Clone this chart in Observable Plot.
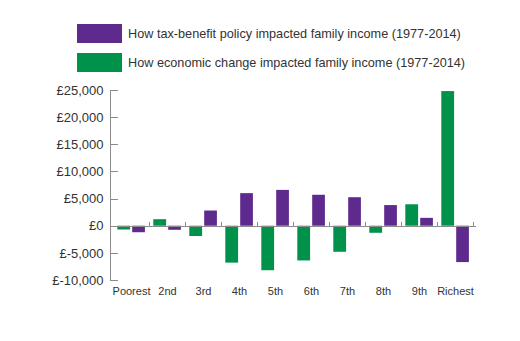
<!DOCTYPE html>
<html>
<head>
<meta charset="utf-8">
<script src="https://cdn.jsdelivr.net/npm/d3@7"></script>
<script src="https://cdn.jsdelivr.net/npm/@observablehq/plot@0.6"></script>
<style>
  html, body { margin: 0; padding: 0; background: #fff; }
  #wrap { position: relative; width: 520px; height: 341px; font-family: "Liberation Sans", Arial, sans-serif; }
  .leg { position: absolute; left: 77px; display: flex; align-items: center; font-size: 12.7px; color: #333; white-space: nowrap; }
  .sw { width: 45px; height: 19px; margin-right: 6px; }
  #chart { position: absolute; left: 0; top: 0; }
</style>
</head>
<body>
<div id="wrap">
  <div id="chart"></div>
  <div id="legend"></div>
</div>
<script>
const quantiles = ["Poorest", "2nd", "3rd", "4th", "5th", "6th", "7th", "8th", "9th", "Richest"];
const economicChange = [-700, 1200, -1900, -6800, -8200, -6400, -4800, -1300, 3950, 24800];
const taxBenefit = [-1200, -750, 2800, 6000, 6600, 5700, 5250, 3800, 1450, -6700];
const yTicks = [-10000, -5000, 0, 5000, 10000, 15000, 20000, 25000];
const seriesNames = [
  "How tax-benefit policy impacted family income (1977-2014)",
  "How economic change impacted family income (1977-2014)"
];
const colors = ["#5f2a8d", "#00924a"];

const econData = quantiles.map((q, i) => ({quantile: q, value: economicChange[i]}));
const taxData = quantiles.map((q, i) => ({quantile: q, value: taxBenefit[i]}));

const fmt = d => "£" + (d < 0 ? "-" : "") + d3.format(",")(Math.abs(d));
const axisColor = "#8c8c8c";

// Axis lines and ticks drawn from Plot's own scales
const axisMark = (index, scales, values, dimensions) => {
  const g = d3.create("svg:g").attr("stroke", axisColor).attr("stroke-width", 1).attr("fill", "none");
  const x = scales.x, y = scales.y;
  const left = dimensions.marginLeft;
  const right = dimensions.width - dimensions.marginRight;
  const y0 = y(0);
  // y axis line
  g.append("line").attr("x1", left + 0.5).attr("x2", left + 0.5)
    .attr("y1", y(yTicks[yTicks.length - 1])).attr("y2", y(yTicks[0]));
  // y ticks pointing inward
  for (const t of yTicks) {
    g.append("line").attr("x1", left).attr("x2", left + 8)
      .attr("y1", Math.round(y(t)) + 0.5).attr("y2", Math.round(y(t)) + 0.5);
  }
  // zero line
  g.append("line").attr("x1", left).attr("x2", right)
    .attr("y1", Math.round(y0) + 0.5).attr("y2", Math.round(y0) + 0.5);
  // category boundary ticks
  const step = (right - left) / quantiles.length;
  for (const q of quantiles) {
    const xb = (x(q) !== undefined ? x(q) : left) + (x.bandwidth ? x.bandwidth() : step);
    g.append("line").attr("x1", Math.round(xb) + 0.5).attr("x2", Math.round(xb) + 0.5)
      .attr("y1", Math.round(y0)).attr("y2", Math.round(y0) - 4);
  }
  return g.node();
};

const chart = Plot.plot({
  width: 520,
  height: 341,
  marginLeft: 110,
  marginRight: 44,
  marginTop: 90,
  marginBottom: 61,
  style: {fontFamily: "'Liberation Sans', Arial, sans-serif", color: "#333", background: "transparent"},
  x: {domain: quantiles, padding: 0, label: null},
  y: {domain: [-10000, 25000], label: null},
  marks: [
    Plot.barY(econData, {x: "quantile", y: "value", fill: colors[1], insetLeft: 4.3, insetRight: 18.9}),
    Plot.barY(taxData, {x: "quantile", y: "value", fill: colors[0], insetLeft: 19.2, insetRight: 4.1}),
    Plot.axisY(yTicks, {tickSize: 0, tickPadding: 7, tickFormat: fmt, fontSize: 13, fill: "#333"}),
    Plot.axisX({tickSize: 0, tickPadding: 7, fontSize: 11, fill: "#333"}),
    axisMark
  ]
});
document.getElementById("chart").appendChild(chart);

const legend = document.getElementById("legend");
const legTops = [24, 53];
seriesNames.forEach((name, i) => {
  const row = document.createElement("div");
  row.className = "leg";
  row.style.top = legTops[i] + "px";
  const sw = document.createElement("div");
  sw.className = "sw";
  sw.style.background = colors[i];
  const tx = document.createElement("span");
  tx.textContent = name;
  row.appendChild(sw);
  row.appendChild(tx);
  legend.appendChild(row);
});
</script>
</body>
</html>
